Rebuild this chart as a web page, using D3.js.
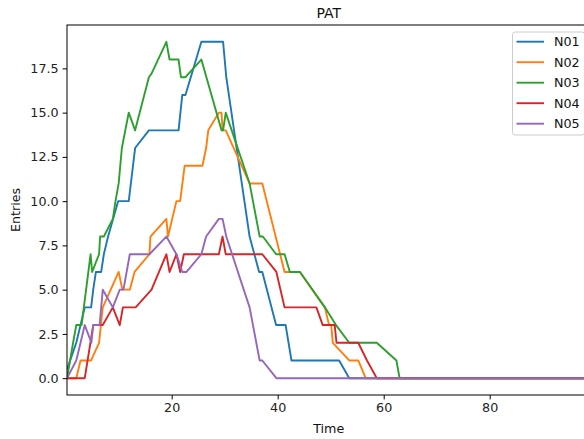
<!DOCTYPE html>
<html>
<head>
<meta charset="utf-8">
<script src="https://cdn.jsdelivr.net/npm/d3@7"></script>
<style>
  body { margin: 0; background: #fff; }
  svg { display: block; font-family: "DejaVu Sans", sans-serif; }
</style>
</head>
<body>
<div class="canvas"></div>
<script>
// Series as [time, entries] corner points
const n01 = [[0.26,0.5],[2,2],[3.6,4],[4.8,4],[5.2,5],[5.7,6],[6.7,6],[7.2,7],[8,8],[9.9,10],[11.9,10],[13.1,13],[15.7,14],[21.3,14],[22,16],[22.6,16],[25.6,19],[29.7,19],[30.3,17],[34.7,8],[36.5,6],[37.1,6],[39.7,3],[41.5,3],[42.6,1],[51.6,1],[53.5,0],[99,0]];
const n02 = [[0.26,0],[2,0],[2.8,1],[4.8,1],[6.3,2],[7,4],[10,6],[10.7,5],[12.1,5],[13,6],[15.8,7],[16,8],[19,9],[19.3,8],[20.9,10],[21.6,10],[22.45,12],[25.8,12],[26.5,13],[26.9,14],[28.9,15],[29.4,15],[29.6,14],[30.2,14],[34.7,11],[37.1,11],[41.3,6],[44.2,6],[48.9,4],[49.7,3],[50.1,3],[50.4,2],[53.5,1],[55.2,1],[56.6,0],[99,0]];
const n03 = [[0.26,0],[1.4,2],[2,3],[3,3],[4.7,7],[5,6],[6.3,7],[6.5,8],[7.2,8],[8.9,9],[9.4,10],[10,11],[10.6,13],[11.9,15],[13.1,14],[15.7,17],[16.2,17.2],[19,19],[19.6,18],[21.3,18],[21.75,17],[22.6,17],[25.6,18],[29.4,14],[29.7,14],[30.2,15],[34.7,11],[36.6,8],[37.2,8],[39.7,7],[41.3,7],[42.3,6],[44.2,6],[48.9,4],[51,3],[53.5,2],[58.7,2],[62.4,1],[63,0],[99,0]];
const n04 = [[0.26,0],[3.6,0],[5.2,3],[7,3],[8.9,4],[10.2,3],[10.8,4],[13.2,4],[16.2,5],[19,7],[19.6,6],[20.9,7],[21.6,6],[22.3,7],[28.9,7],[29.6,8],[30.2,7],[37.1,7],[39.75,6],[41.3,4],[47.3,4],[48.5,3],[50.75,3],[51.1,2],[55.2,2],[56.85,1],[58.7,0],[99,0]];
const n05 = [[0.26,0],[2,1],[3.6,3],[4.85,2],[5.2,3],[6.4,3],[6.7,4],[7,5],[8.9,4],[10.2,5],[10.9,5],[12.1,7],[15.8,7],[19,8],[20.9,7],[22,6],[22.8,6],[25.6,7],[26.5,8],[28.9,9],[29.6,9],[30.3,8],[34.7,4],[36.6,1],[37.1,1],[39.75,0],[99,0]];

const seriesNames = ['N01', 'N02', 'N03', 'N04', 'N05'];
const seriesData = [n01, n02, n03, n04, n05];
const colors = ['#1f77b4', '#ff7f0e', '#2ca02c', '#d62728', '#9467bd'];
const xTicks = [20, 40, 60, 80];
const yTicks = [0, 2.5, 5, 7.5, 10, 12.5, 15, 17.5];

const dims = {
    width: 584,
    height: 439,
    left: 67,
    top: 25,
    right: 590.4,
    bottom: 395
};

const svg = d3.select('.canvas')
    .append('svg')
    .attr('width', dims.width)
    .attr('height', dims.height);

const x = d3.scaleLinear().domain([0.25, 99]).range([dims.left, dims.right]);
const y = d3.scaleLinear().domain([-0.95, 19.95]).range([dims.bottom, dims.top]);

// Clip lines to the axes box
svg.append('clipPath').attr('id', 'plot')
    .append('rect')
    .attr('x', dims.left).attr('y', dims.top)
    .attr('width', dims.right - dims.left).attr('height', dims.bottom - dims.top);

const line = d3.line().x(d => x(d[0])).y(d => y(d[1]));

svg.append('g')
    .attr('clip-path', 'url(#plot)')
    .selectAll('path')
    .data(seriesData)
    .enter()
    .append('path')
    .attr('fill', 'none')
    .attr('stroke', (d, i) => colors[i])
    .attr('stroke-width', 1.9)
    .attr('stroke-linejoin', 'round')
    .attr('d', line);

// Axes
const xAxis = svg.append('g')
    .attr('transform', `translate(0, ${dims.bottom})`)
    .call(d3.axisBottom(x).tickValues(xTicks).tickFormat(d3.format('d')).tickSizeOuter(0).tickSize(4.4).tickPadding(4));
const yAxis = svg.append('g')
    .attr('transform', `translate(${dims.left}, 0)`)
    .call(d3.axisLeft(y).tickValues(yTicks).tickFormat(d3.format('.1f')).tickSizeOuter(0).tickSize(4.4).tickPadding(4));

[xAxis, yAxis].forEach(g => {
    g.select('.domain').remove();
    g.selectAll('line').attr('stroke', '#000').attr('stroke-width', 1);
    g.selectAll('text').attr('fill', '#222').style('font-size', '12.7px').style('font-family', '"DejaVu Sans", sans-serif');
});

// Spines
svg.append('rect')
    .attr('x', dims.left).attr('y', dims.top)
    .attr('width', dims.right - dims.left).attr('height', dims.bottom - dims.top)
    .attr('fill', 'none')
    .attr('stroke', '#000')
    .attr('stroke-width', 1);

// Titles
svg.append('text')
    .attr('x', (dims.left + dims.right) / 2).attr('y', 18)
    .attr('text-anchor', 'middle')
    .style('font-size', '14px')
    .attr('fill', '#111')
    .text('PAT');

svg.append('text')
    .attr('x', (dims.left + dims.right) / 2).attr('y', 433)
    .attr('text-anchor', 'middle')
    .style('font-size', '12.7px')
    .attr('fill', '#111')
    .text('Time');

svg.append('text')
    .attr('transform', `translate(20, ${(dims.top + dims.bottom) / 2}) rotate(-90)`)
    .attr('text-anchor', 'middle')
    .style('font-size', '12.7px')
    .attr('fill', '#111')
    .text('Entries');

// Legend
const legend = svg.append('g').attr('transform', 'translate(512.5, 32)');
legend.append('rect')
    .attr('width', 72).attr('height', 103)
    .attr('rx', 2.5)
    .attr('fill', 'rgba(255,255,255,0.8)')
    .attr('stroke', '#ccc')
    .attr('stroke-width', 1);

const rows = legend.selectAll('.row')
    .data(seriesNames)
    .enter()
    .append('g')
    .attr('class', 'row')
    .attr('transform', (d, i) => `translate(0, ${9.7 + i * 20.5})`);

rows.append('line')
    .attr('x1', 4).attr('x2', 31.5)
    .attr('stroke', (d, i) => colors[i])
    .attr('stroke-width', 1.9);

rows.append('text')
    .attr('x', 41.5).attr('y', 4.5)
    .style('font-size', '12.7px')
    .attr('fill', '#111')
    .text(d => d);
</script>
</body>
</html>
